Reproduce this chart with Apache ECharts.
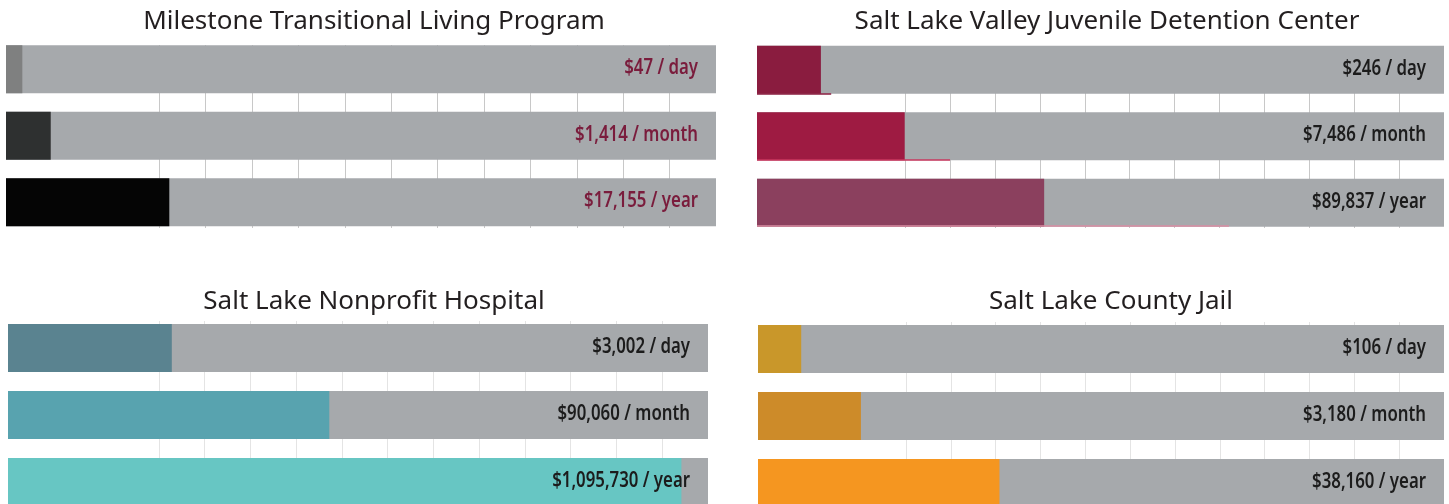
<!DOCTYPE html>
<html>
<head>
<meta charset="utf-8">
<script src="https://cdn.jsdelivr.net/npm/echarts@6/dist/echarts.min.js"></script>
<style>
  html, body { margin: 0; padding: 0; background: #fff; overflow: hidden; }
  #main { width: 1449px; height: 540px; }
</style>
</head>
<body>
<div id="main"></div>
<script>
  const periods = ['day', 'month', 'year']

  const programs = [
    'Milestone Transitional Living Program',
    'Salt Lake Valley Juvenile Detention Center',
    'Salt Lake Nonprofit Hospital',
    'Salt Lake County Jail',
  ]

  // cost printed on each bar
  const milestoneCost = [47, 1414, 17155]
  const juvenileCost = [246, 7486, 89837]
  const hospitalCost = [3002, 90060, 1095730]
  const jailCost = [106, 3180, 38160]

  // filled share of each bar, % of full width
  const milestoneFill = [2.3, 6.3, 23.0]
  const juvenileFill = [9.3, 21.5, 41.8]
  const hospitalFill = [23.4, 45.9, 96.2]
  const jailFill = [6.3, 15.0, 35.2]

  // thin pink rules under the juvenile bars
  const juvenileRule = [10.8, 28.1, 68.7]

  const full = [100, 100, 100]

  const panels = [
    {
      title: programs[0], cost: milestoneCost, fill: milestoneFill,
      left: 6, width: 710, top: 36, height: 199.5, titleX: 369, titleY: 4,
      colors: ['#7f8080', '#2e3030', '#050505'], labelColor: '#7a1c3c',
      lineTop: 45, lineHeight: 183, lineColor: '#c8c8c8',
    },
    {
      title: programs[1], cost: juvenileCost, fill: juvenileFill,
      left: 757, width: 687, top: 36.5, height: 199.5, titleX: 1102, titleY: 4,
      colors: ['#8a1c3f', '#9e1b42', '#8b405e'], labelColor: '#1c1c1c',
      lineTop: 46, lineHeight: 182, lineColor: '#c8c8c8',
    },
    {
      title: programs[2], cost: hospitalCost, fill: hospitalFill,
      left: 8, width: 700, top: 314.5, height: 201, titleX: 369, titleY: 284,
      colors: ['#5a8390', '#58a3af', '#67c6c3'], labelColor: '#1c1c1c',
      lineTop: 321, lineHeight: 190, lineColor: '#e4e4e4',
    },
    {
      title: programs[3], cost: jailCost, fill: jailFill,
      left: 758, width: 686, top: 315.5, height: 201, titleX: 1106, titleY: 284,
      colors: ['#c9972a', '#cd8b29', '#f59620'], labelColor: '#1c1c1c',
      lineTop: 322, lineHeight: 190, lineColor: '#e4e4e4',
    },
  ]

  const titleFont = "'Noto Sans', 'DejaVu Sans', sans-serif"
  const labelFont = "600 21px 'Noto Sans', 'DejaVu Sans', sans-serif"

  function money (v) {
    return '$' + v.toLocaleString('en-US')
  }

  // hidden grid line colours: only the middle twelve lines show
  function lineColors (c) {
    const out = []
    for (let i = 0; i < 17; i++) {
      out.push(i >= 1 && i <= 12 ? c : 'rgba(0,0,0,0)')
    }
    return out
  }

  const grid = []
  const xAxis = []
  const yAxis = []
  const series = []
  const title = []

  panels.forEach((p, k) => {
    title.push({
      text: p.title,
      left: p.titleX,
      top: p.titleY,
      textAlign: 'center',
      textStyle: { fontFamily: titleFont, fontSize: 26, fontWeight: 'normal', color: '#231f20' },
    })

    // grid for the vertical rules behind the bars
    grid.push({ left: p.left, width: p.width, top: p.lineTop, height: p.lineHeight })
    const gLines = grid.length - 1
    xAxis.push({
      gridIndex: gLines, type: 'value', inverse: true, min: 0, max: 15.3, interval: 1,
      axisLine: { show: false }, axisTick: { show: false }, axisLabel: { show: false },
      splitLine: { show: true, lineStyle: { color: lineColors(p.lineColor), width: 1 } },
    })
    yAxis.push({ gridIndex: gLines, type: 'value', show: false })

    // grid for the bars
    grid.push({ left: p.left, width: p.width, top: p.top, height: p.height })
    const gBars = grid.length - 1
    xAxis.push({ gridIndex: gBars, type: 'value', min: 0, max: 100, show: false })
    yAxis.push({ gridIndex: gBars, type: 'category', inverse: true, data: periods, show: false })

    series.push({
      type: 'bar', xAxisIndex: gBars, yAxisIndex: gBars, z: 2,
      barWidth: 48, barGap: '-100%', silent: true,
      itemStyle: { color: '#a6a9ac' },
      data: full,
    })
    series.push({
      type: 'bar', xAxisIndex: gBars, yAxisIndex: gBars, z: 3,
      barWidth: 48, barGap: '-100%', silent: true,
      data: p.fill.map((v, i) => ({ value: v, itemStyle: { color: p.colors[i] } })),
    })
    // condensed value labels at the right end of each bar
    series.push({
      type: 'custom', xAxisIndex: gBars, yAxisIndex: gBars, z: 4, silent: true,
      renderItem (params, api) {
        const pt = api.coord([api.value(0), api.value(1)])
        const i = params.dataIndex
        return {
          type: 'text',
          x: pt[0] - 18,
          y: pt[1] - 1,
          scaleX: 0.8,
          style: {
            text: money(p.cost[i]) + ' / ' + periods[i],
            font: labelFont,
            fill: p.labelColor,
            textAlign: 'right',
            textVerticalAlign: 'middle',
          },
        }
      },
      data: full.map((v, i) => [v, i]),
    })

    if (k === 1) {
      // rules sit on the bottom edge of each juvenile bar
      grid.push({ left: p.left, width: p.width, top: p.top + 24.5, height: 198 })
      const gRule = grid.length - 1
      xAxis.push({ gridIndex: gRule, type: 'value', min: 0, max: 100, show: false })
      yAxis.push({ gridIndex: gRule, type: 'category', inverse: true, data: periods, show: false })
      const ruleColors = ['#8a1c3f', '#c8385f', '#d98ea3']
      series.push({
        type: 'bar', xAxisIndex: gRule, yAxisIndex: gRule, z: 5,
        barWidth: 1.5, silent: true,
        data: juvenileRule.map((v, i) => ({ value: v, itemStyle: { color: ruleColors[i] } })),
      })
    }
  })

  const chart = echarts.init(document.getElementById('main'))
  chart.setOption({
    animation: false,
    title,
    grid,
    xAxis,
    yAxis,
    series,
  })
</script>
</body>
</html>
